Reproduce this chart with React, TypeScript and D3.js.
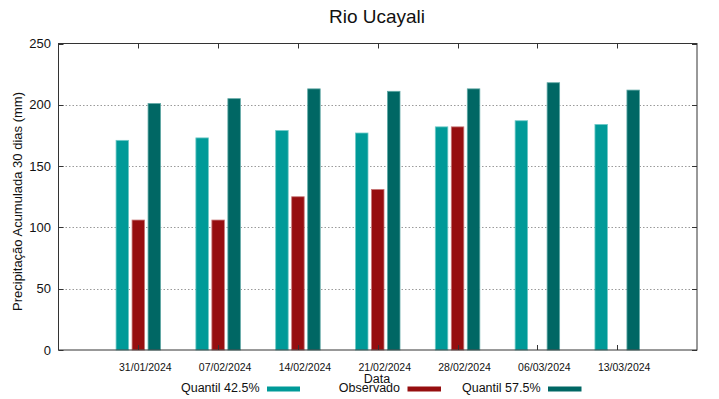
import React from "react";
import * as d3 from "d3";

const categories = ["31/01/2024", "07/02/2024", "14/02/2024", "21/02/2024", "28/02/2024", "06/03/2024", "13/03/2024"];
const quantil425: (number | null)[] = [171, 173, 179, 177, 182, 187, 184];
const observado: (number | null)[] = [106, 106, 125, 131, 182, null, null];
const quantil575: (number | null)[] = [201, 205, 213, 211, 213, 218, 212];
const yTicks = [0, 50, 100, 150, 200, 250];

const seriesNames = ["Quantil 42.5%", "Observado", "Quantil 57.5%"];
const seriesColors = ["#009a98", "#960e0f", "#006764"];
const seriesStroke = ["#6fcac8", "#c87878", "#5fa8a5"];

const W = 719, H = 399;
const left = 58.5, right = 697, top = 43.5, bottom = 350;

export default function App() {
  const x = d3.scaleLinear().domain([-1, categories.length]).range([left, right]);
  const y = d3.scaleLinear().domain([0, 250]).range([bottom, top]);
  const series = [quantil425, observado, quantil575];
  const offsets = [-16, 0, 16];
  const bw = 12.5;
  const font = "Liberation Sans, Arial, sans-serif";
  const legendItems = [
    { textEnd: 259.5, s0: 267, s1: 300 },
    { textEnd: 400, s0: 407.5, s1: 441 },
    { textEnd: 540.5, s0: 548, s1: 581.5 },
  ];
  return (
    <svg width={W} height={H} style={{ position: "absolute", left: 0, top: 0, background: "#fff" }} fontFamily={font}>
      <rect x={0} y={0} width={W} height={H} fill="#fff" />
      <text x={377} y={23} fontSize={19} textAnchor="middle" fill="#111">Rio Ucayali</text>
      {yTicks.filter(t => t > 0 && t < 250).map(t => (
        <line key={"g" + t} x1={left} x2={right} y1={Math.round(y(t)) + 0.5} y2={Math.round(y(t)) + 0.5}
          stroke="#9a9a9a" strokeWidth={1} strokeDasharray="1.5,2" />
      ))}
      {yTicks.map(t => (
        <g key={"t" + t}>
          <line x1={left} x2={left + 5} y1={Math.round(y(t)) + 0.5} y2={Math.round(y(t)) + 0.5} stroke="#333" />
          <line x1={right - 5} x2={right} y1={Math.round(y(t)) + 0.5} y2={Math.round(y(t)) + 0.5} stroke="#333" />
          <text x={51} y={y(t) + 4.5} fontSize={13} textAnchor="end" fill="#111">{t}</text>
        </g>
      ))}
      {series.map((vals, si) => vals.map((v, i) => v == null ? null : (
        <rect key={si + "-" + i} x={x(i) + offsets[si] - bw / 2} y={y(v)} width={bw} height={bottom - y(v)}
          fill={seriesColors[si]} stroke={seriesStroke[si]} strokeWidth={0.8} />
      )))}
      {categories.map((c, i) => (
        <g key={c}>
          <line x1={Math.round(x(i)) + 0.5} x2={Math.round(x(i)) + 0.5} y1={bottom} y2={bottom - 5} stroke="#333" />
          <line x1={Math.round(x(i)) + 0.5} x2={Math.round(x(i)) + 0.5} y1={top} y2={top + 5} stroke="#333" />
          <text x={x(i) + 7} y={371} fontSize={10.5} textAnchor="middle" fill="#111">{c}</text>
        </g>
      ))}
      <rect x={left} y={top} width={right - left} height={bottom - top} fill="none" stroke="#333" strokeWidth={1} />
      <text x={377} y={383} fontSize={12.5} textAnchor="middle" fill="#111">Data</text>
      <text transform={`translate(21.5,201.5) rotate(-90)`} fontSize={13} textAnchor="middle" fill="#111">
        Precipitação Acumulada 30 dias (mm)
      </text>
      {legendItems.map((l, i) => (
        <g key={"l" + i}>
          <text x={l.textEnd} y={392} fontSize={12.5} textAnchor="end" fill="#111">{seriesNames[i]}</text>
          <rect x={l.s0} y={386.5} width={l.s1 - l.s0} height={5} fill={seriesColors[i]} />
        </g>
      ))}
    </svg>
  );
}
